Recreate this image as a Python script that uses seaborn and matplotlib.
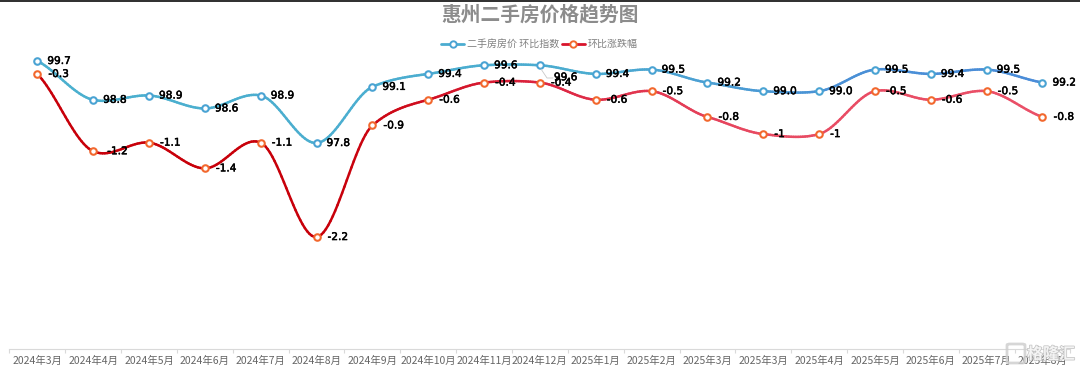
import numpy as np
import pandas as pd
import matplotlib
matplotlib.use("Agg")
import matplotlib.pyplot as plt
import matplotlib.patheffects as pe
from matplotlib.collections import LineCollection
from matplotlib.colors import LinearSegmentedColormap
from matplotlib.lines import Line2D
from matplotlib.patches import FancyBboxPatch, Rectangle
import seaborn as sns

months = ["2024年3月", "2024年4月", "2024年5月", "2024年6月", "2024年7月", "2024年8月", "2024年9月",
          "2024年10月", "2024年11月", "2024年12月", "2025年1月", "2025年2月", "2025年3月", "2025年3月",
          "2025年4月", "2025年5月", "2025年6月", "2025年7月", "2025年8月"]
index_values = [99.7, 98.8, 98.9, 98.6, 98.9, 97.8, 99.1, 99.4, 99.6, 99.6, 99.4, 99.5, 99.2, 99.0,
                99.0, 99.5, 99.4, 99.5, 99.2]
change_values = [-0.3, -1.2, -1.1, -1.4, -1.1, -2.2, -0.9, -0.6, -0.4, -0.4, -0.6, -0.5, -0.8, -1,
                 -1, -0.5, -0.6, -0.5, -0.8]
index_labels = ["99.7", "98.8", "98.9", "98.6", "98.9", "97.8", "99.1", "99.4", "99.6", "99.6", "99.4",
                "99.5", "99.2", "99.0", "99.0", "99.5", "99.4", "99.5", "99.2"]
change_labels = ["-0.3", "-1.2", "-1.1", "-1.4", "-1.1", "-2.2", "-0.9", "-0.6", "-0.4", "-0.4", "-0.6",
                 "-0.5", "-0.8", "-1", "-1", "-0.5", "-0.6", "-0.5", "-0.8"]
title = "惠州二手房价格趋势图"
series_names = ["二手房房价 环比指数", "环比涨跌幅"]

sns.set_theme(style="white")
FONT = ["Noto Sans CJK SC", "DejaVu Sans"]
plt.rcParams["font.family"] = FONT

W, H = 1080, 370
fig = plt.figure(figsize=(W / 100, H / 100), dpi=100, facecolor="white")
ax = fig.add_axes([9.4 / W, 1 - 349 / H, (1071 - 10) / W, (349 - 10) / H])
ax2 = ax.twinx()
ax2.set_position(ax.get_position())

df = pd.DataFrame({"pos": np.arange(len(months)), "index": index_values, "change": change_values})


def smooth(x, y, n=24, k=0.72):
    """Smooth drawing path through the data points (damped Hermite spline)."""
    x, y = np.asarray(x, float), np.asarray(y, float)
    xs, ys = [], []
    dy = np.zeros_like(y)
    dy[1:-1] = (y[2:] - y[:-2]) / 2
    dy[0] = y[1] - y[0]
    dy[-1] = y[-1] - y[-2]
    dy *= k
    t = np.linspace(0, 1, n, endpoint=False)
    h00, h10 = 2 * t**3 - 3 * t**2 + 1, t**3 - 2 * t**2 + t
    h01, h11 = -2 * t**3 + 3 * t**2, t**3 - t**2
    for i in range(len(x) - 1):
        xs.append(x[i] + (x[i + 1] - x[i]) * t)
        ys.append(h00 * y[i] + h10 * dy[i] + h01 * y[i + 1] + h11 * dy[i + 1])
    xs.append(x[-1:])
    ys.append(y[-1:])
    return np.concatenate(xs), np.concatenate(ys)


def gradient_line(axis, x, y, cmap):
    sx, sy = smooth(x, y)
    pts = np.column_stack([sx, sy])
    segs = np.stack([pts[:-1], pts[1:]], axis=1)
    lc = LineCollection(segs, cmap=cmap, linewidths=1.8, capstyle="round", zorder=2)
    lc.set_array((sx[:-1] + sx[1:]) / 2 / (len(x) - 1))
    lc.set_clim(0, 1)
    axis.add_collection(lc)


blue_cmap = LinearSegmentedColormap.from_list("b", [(0, "#4bb0cf"), (0.55, "#4bacd0"), (0.8, "#4a90d6"), (1, "#4a8cd8")])
red_cmap = LinearSegmentedColormap.from_list("r", [(0, "#c8000a"), (0.3, "#c8000a"), (0.5, "#dc2440"), (0.72, "#e84a62"), (1, "#ea5068")])

for axis, col, cmap, edge in [(ax, "index", blue_cmap, "#4aa3d3"), (ax2, "change", red_cmap, "#f2682e")]:
    gradient_line(axis, df["pos"], df[col], cmap)
    sns.scatterplot(data=df, x="pos", y=col, ax=axis, s=22, color="white", edgecolor=edge,
                    linewidth=1.5, zorder=3, legend=False, clip_on=False)

ax.set_xlim(-0.5, len(months) - 0.5)
ax2.set_xlim(-0.5, len(months) - 0.5)
ax.set_ylim(93.03, 100.88)
ax2.set_ylim(-3.505, 0.446)
ax.set_xlabel("")
ax.set_ylabel("")
ax2.set_xlabel("")
ax2.set_ylabel("")
ax.set_yticks([])
ax2.set_yticks([])
for a in (ax, ax2):
    for s in ("top", "left", "right"):
        a.spines[s].set_visible(False)
ax2.spines["bottom"].set_visible(False)
ax.spines["bottom"].set_color("#d9d9d9")
ax.spines["bottom"].set_linewidth(0.8)
ax.set_xticks(df["pos"])
ax.set_xticklabels(months, fontsize=7.5, color="#666666")
ax.set_xticks(np.arange(len(months) + 1) - 0.5, minor=True)
ax.tick_params(axis="x", which="major", length=0, pad=5)
ax.tick_params(axis="x", which="minor", length=3, color="#d9d9d9", width=0.8, bottom=True)

stroke = [pe.withStroke(linewidth=0.35, foreground="black")]
for i, (v, lab) in enumerate(zip(index_values, index_labels)):
    dx, dy = 10, 0
    if i == 9:
        dx, dy = 14, -12
    ax.annotate(lab, (i, v), xytext=(dx * 0.72, dy * 0.72), textcoords="offset points", va="center",
                ha="left", fontsize=7.6, color="black", family="DejaVu Sans", zorder=5, path_effects=stroke)
for i, (v, lab) in enumerate(zip(change_values, change_labels)):
    dx = 11
    if i == 1:
        dx = 14
    ax2.annotate(lab, (i, v), xytext=(dx * 0.72, 0), textcoords="offset points", va="center", ha="left",
                 fontsize=7.6, color="black", family="DejaVu Sans", zorder=5, path_effects=stroke)

# leader line of the moved label
fig.add_artist(Line2D(np.array([541, 547, 553]) / W, 1 - np.array([69, 78, 78]) / H, color="#c8c8c8", lw=0.6))

fig.text(540 / W, 1 - 15 / H, title, ha="center", va="center", fontsize=14.2, fontweight="bold", color="#8c8c8c")

handles = [Line2D([], [], color="#4bacd0", lw=2, marker="o", ms=4.6, mfc="white", mec="#4aa3d3", mew=1.4),
           Line2D([], [], color="#d8142c", lw=2, marker="o", ms=4.6, mfc="white", mec="#f2682e", mew=1.4)]
leg = fig.legend(handles, series_names, loc="center", bbox_to_anchor=(539.5 / W, 1 - 44 / H), ncol=2, frameon=False,
                 fontsize=7.2, labelcolor="#808080", handlelength=2.3, handletextpad=0.3, columnspacing=0.25,
                 borderpad=0)

# screenshot edge and watermark
fig.add_artist(Rectangle((0, 1 - 1.5 / H), 1, 1.5 / H, transform=fig.transFigure, color="#333333", lw=0))
fig.add_artist(FancyBboxPatch((1007 / W, 1 - 363 / H), 18 / W, 19 / H, transform=fig.transFigure,
                              boxstyle="round,pad=0,rounding_size=0.003", fc="none", ec="#cfcfcf", lw=2, alpha=0.85))
fig.text(1051 / W, 1 - 354 / H, "格隆汇", ha="center", va="center", fontsize=11.5, color="#f6f6f6", alpha=0.95,
         fontweight="bold", path_effects=[pe.withStroke(linewidth=1.0, foreground="#bdbdbd")])

fig.savefig("out.png", dpi=100)
